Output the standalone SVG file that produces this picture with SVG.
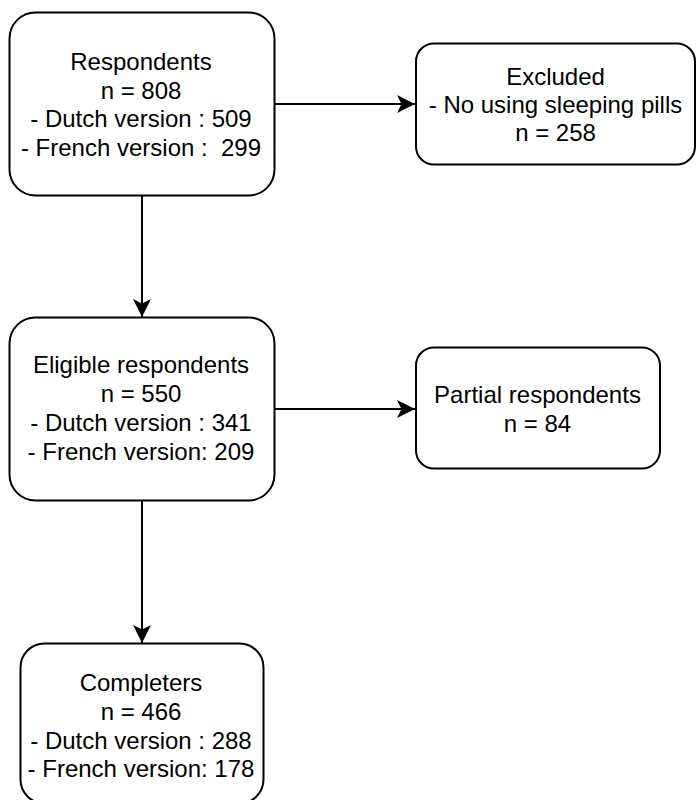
<svg xmlns="http://www.w3.org/2000/svg" width="696" height="800" viewBox="0 0 696 800">
<style>
.box{fill:#fff;stroke:#000;stroke-width:2}
.t{font-family:"Liberation Sans",Arial,sans-serif;font-size:24px;fill:#000;text-anchor:middle;white-space:pre}
.c{stroke:#000;stroke-width:2;fill:none}
</style>
<defs>
<marker id="arr" viewBox="0 0 18 18" refX="18" refY="9" markerWidth="18" markerHeight="18" orient="auto" markerUnits="userSpaceOnUse">
<path d="M0,0 L18,9 L0,18 L4.5,9 Z" fill="#000"/>
</marker>
</defs>
<rect width="696" height="800" fill="#fff"/>
<g id="connectors">
<path class="c" d="M275,104 L415,104" marker-end="url(#arr)"/>
<path class="c" d="M142,195 L142,317" marker-end="url(#arr)"/>
<path class="c" d="M275,409 L415,409" marker-end="url(#arr)"/>
<path class="c" d="M142,500 L142,643" marker-end="url(#arr)"/>
</g>
<g id="respondents">
<rect class="box" x="9.5" y="12.5" width="265" height="183" rx="26"/>
<text class="t" x="141" y="70">Respondents</text>
<text class="t" x="141" y="98.5">n = 808</text>
<text class="t" x="141" y="127">- Dutch version : 509</text>
<text class="t" x="141" y="155.5" xml:space="preserve">- French version :  299</text>
</g>
<g id="excluded">
<rect class="box" x="416" y="43.5" width="279" height="121" rx="18"/>
<text class="t" x="555.5" y="84.5">Excluded</text>
<text class="t" x="555.5" y="112.5">- No using sleeping pills</text>
<text class="t" x="555.5" y="141">n = 258</text>
</g>
<g id="eligible">
<rect class="box" x="9.5" y="317.5" width="265" height="183" rx="26"/>
<text class="t" x="141" y="373">Eligible respondents</text>
<text class="t" x="141" y="402">n = 550</text>
<text class="t" x="141" y="431">- Dutch version : 341</text>
<text class="t" x="141" y="460">- French version: 209</text>
</g>
<g id="partial">
<rect class="box" x="416" y="347.5" width="244" height="121" rx="18"/>
<text class="t" x="537.5" y="403">Partial respondents</text>
<text class="t" x="537.5" y="432">n = 84</text>
</g>
<g id="completers">
<rect class="box" x="20.5" y="643.5" width="243" height="160" rx="24"/>
<text class="t" x="141" y="691">Completers</text>
<text class="t" x="141" y="720">n = 466</text>
<text class="t" x="141" y="748.5">- Dutch version : 288</text>
<text class="t" x="141" y="777">- French version: 178</text>
</g>
</svg>
